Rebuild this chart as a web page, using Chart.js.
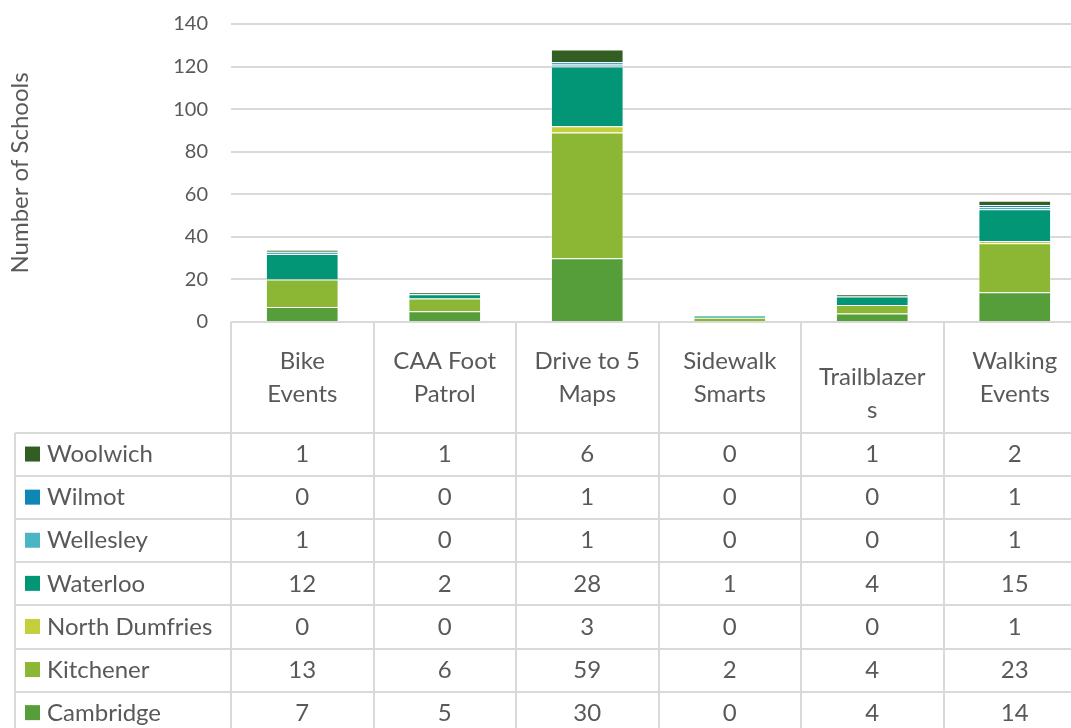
<!DOCTYPE html>
<html>
<head>
<meta charset="utf-8">
<script src="https://cdn.jsdelivr.net/npm/chart.js@4.4.1/dist/chart.umd.min.js"></script>
<style>
  html, body { margin: 0; padding: 0; background: #fff; overflow: hidden; }
  #wrap { width: 1071px; height: 728px; overflow: hidden; }
</style>
</head>
<body>
<div id="wrap"><canvas id="schoolsChart" width="1090" height="728"></canvas></div>
<script>
// categories (header lines as wrapped in the table)
const categories = ['Bike Events', 'CAA Foot Patrol', 'Drive to 5 Maps', 'Sidewalk Smarts', 'Trailblazers', 'Walking Events'];
const headerLines = [['Bike', 'Events'], ['CAA Foot', 'Patrol'], ['Drive to 5', 'Maps'], ['Sidewalk', 'Smarts'], ['', 'Trailblazer', 's'], ['Walking', 'Events']];

// series, bottom of stack first
const cambridge     = [7, 5, 30, 0, 4, 14];
const kitchener     = [13, 6, 59, 2, 4, 23];
const northDumfries = [0, 0, 3, 0, 0, 1];
const waterloo      = [12, 2, 28, 1, 4, 15];
const wellesley     = [1, 0, 1, 0, 0, 1];
const wilmot        = [0, 0, 1, 0, 0, 1];
const woolwich      = [1, 1, 6, 0, 1, 2];

const yTicks = [0, 20, 40, 60, 80, 100, 120, 140];

const FONT = 'Lato, "Liberation Sans", sans-serif';
const TEXT = '#595959';
const LINE = '#d9d9d9';

const series = [
    { label: 'Cambridge', data: cambridge, color: '#559e39' },
    { label: 'Kitchener', data: kitchener, color: '#8cb734' },
    { label: 'North Dumfries', data: northDumfries, color: '#c4d03b' },
    { label: 'Waterloo', data: waterloo, color: '#039676' },
    { label: 'Wellesley', data: wellesley, color: '#4bb5c4' },
    { label: 'Wilmot', data: wilmot, color: '#0f87b5' },
    { label: 'Woolwich', data: woolwich, color: '#335e23' }
];

// draws the data table under the plot
const dataTable = {
    id: 'dataTable',
    afterDraw(chart) {
        const ctx = chart.ctx;
        const x = chart.scales.x;
        const area = chart.chartArea;
        const half = (x.getPixelForValue(1) - x.getPixelForValue(0)) / 2;
        const headerTop = area.bottom;
        const headerBottom = headerTop + 111;
        const rowH = 43.1;
        const legendLeft = 15;
        const rows = series.slice().reverse();
        const tableBottom = headerBottom + rowH * rows.length;
        const rightEdge = x.getPixelForValue(categories.length - 1) + half;

        ctx.save();
        ctx.strokeStyle = LINE;
        ctx.lineWidth = 2;
        ctx.beginPath();
        // column lines
        for (let i = 0; i <= categories.length; i++) {
            const px = Math.round(x.getPixelForValue(i) - half);
            ctx.moveTo(px, headerTop);
            ctx.lineTo(px, tableBottom);
        }
        ctx.moveTo(legendLeft, headerBottom);
        ctx.lineTo(legendLeft, tableBottom);
        // row lines
        for (let r = 0; r <= rows.length; r++) {
            const py = Math.round(headerBottom + r * rowH);
            ctx.moveTo(legendLeft, py);
            ctx.lineTo(rightEdge, py);
        }
        ctx.stroke();

        ctx.fillStyle = TEXT;
        ctx.textAlign = 'center';
        ctx.textBaseline = 'middle';
        ctx.font = '24px ' + FONT;
        // header labels
        headerLines.forEach((lines, i) => {
            const cx = x.getPixelForValue(i);
            const lh = 33;
            const y0 = headerTop + 55.5 - (lines.length - 1) * lh / 2;
            lines.forEach((t, k) => ctx.fillText(t, cx, y0 + k * lh));
        });
        // rows
        rows.forEach((s, r) => {
            const cy = headerBottom + r * rowH + rowH / 2;
            ctx.fillStyle = s.color;
            ctx.fillRect(25, cy - 8, 15, 15);
            ctx.fillStyle = TEXT;
            ctx.textAlign = 'left';
            ctx.fillText(s.label, 47, cy);
            ctx.textAlign = 'center';
            s.data.forEach((v, i) => ctx.fillText(String(v), x.getPixelForValue(i), cy));
        });
        ctx.restore();
    }
};

new Chart(document.getElementById('schoolsChart'), {
    type: 'bar',
    data: {
        labels: categories,
        datasets: series.map(s => ({
            label: s.label,
            data: s.data,
            backgroundColor: s.color,
            borderColor: 'rgba(255, 255, 255, 0.4)',
            borderWidth: 1,
            barPercentage: 0.51,
            categoryPercentage: 1
        }))
    },
    options: {
        responsive: false,
        animation: false,
        events: [],
        layout: { padding: { top: 24, right: 4, bottom: 406, left: 0 } },
        plugins: {
            legend: { display: false },
            tooltip: { enabled: false }
        },
        scales: {
            x: {
                stacked: true,
                display: false
            },
            y: {
                stacked: true,
                min: 0,
                max: 140,
                afterBuildTicks: scale => { scale.ticks = yTicks.map(v => ({ value: v })); },
                afterFit: scale => { scale.width = 231; },
                border: { display: false },
                grid: { color: LINE, lineWidth: 2, drawTicks: true, tickLength: 21, tickColor: 'rgba(0,0,0,0)' },
                ticks: {
                    padding: 2,
                    color: TEXT,
                    font: { family: FONT, size: 20 }
                },
                title: {
                    display: true,
                    text: 'Number of Schools',
                    color: TEXT,
                    font: { family: FONT, size: 24 },
                    padding: { top: 6, bottom: 0 }
                }
            }
        }
    },
    plugins: [dataTable]
});
</script>
</body>
</html>
